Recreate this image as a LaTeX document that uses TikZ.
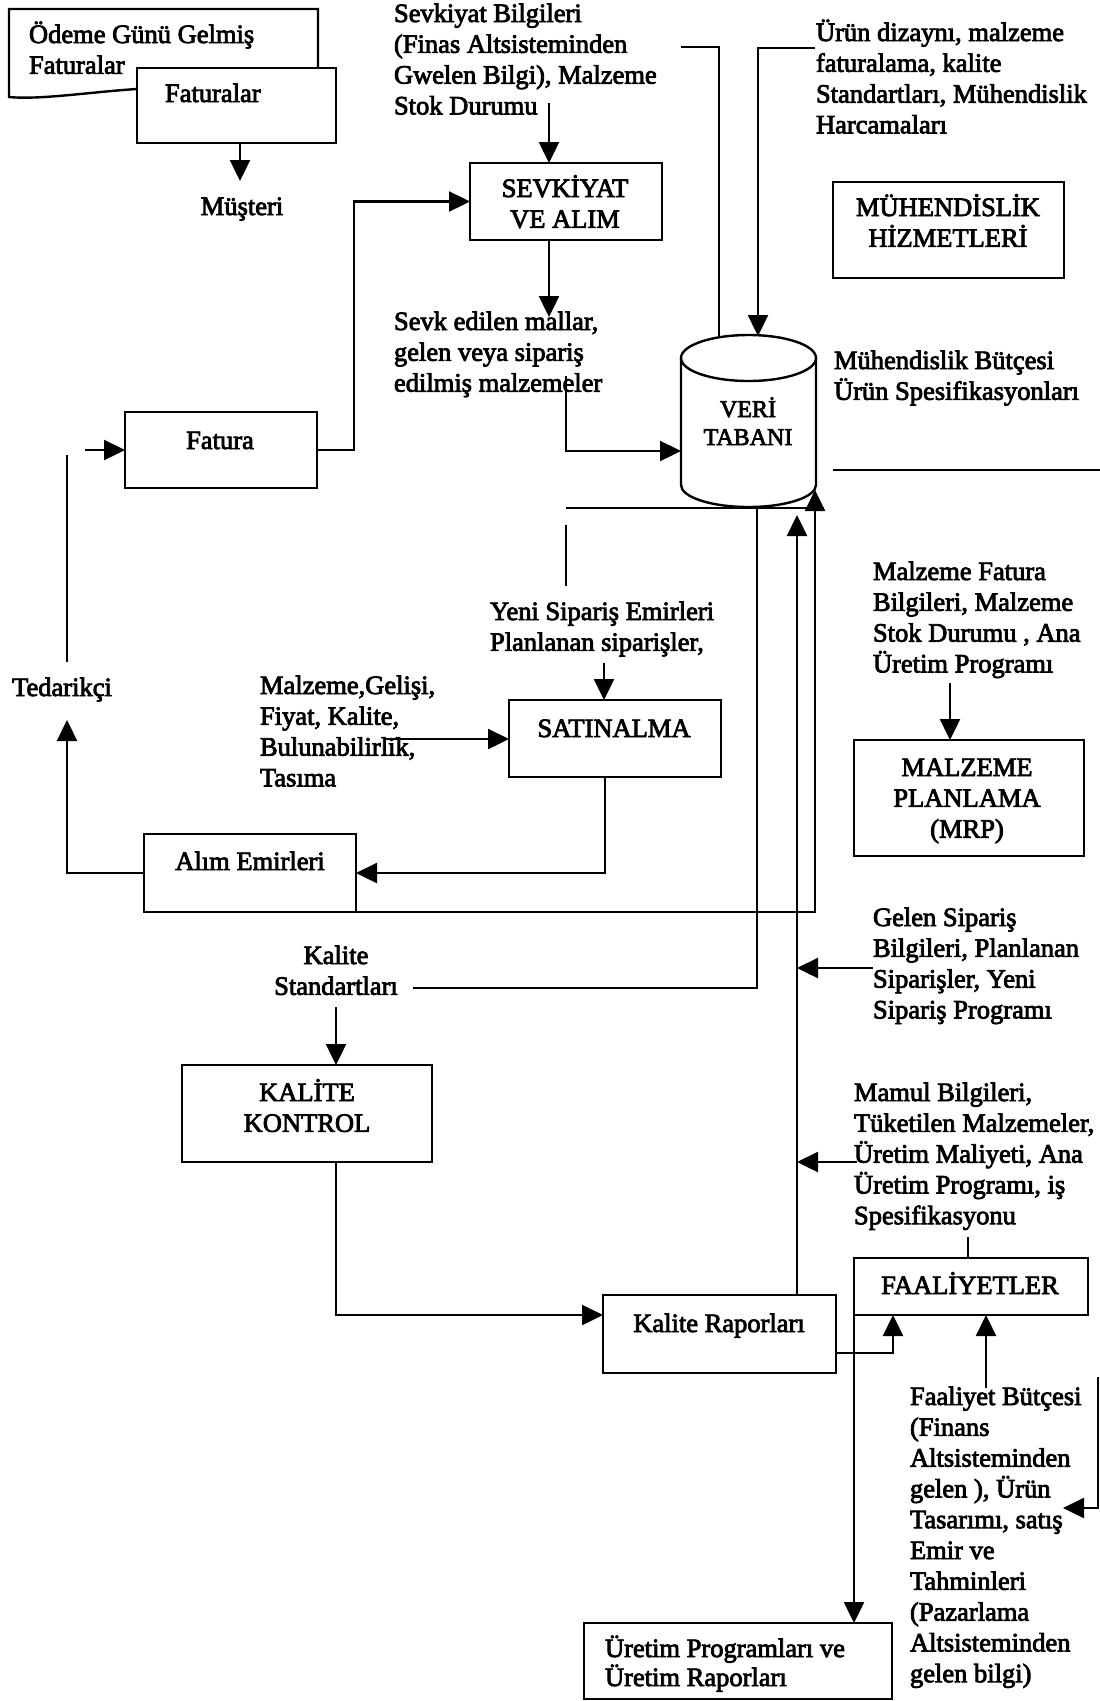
\documentclass[tikz,border=0pt]{standalone}
\usepackage{fontspec}
\setmainfont{Liberation Serif}[FakeBold=3]
\usetikzlibrary{arrows.meta,calc}
\newcommand\st{\rule{0pt}{23pt}}
\begin{document}
\begin{tikzpicture}[x=1pt,y=-1pt,
  ln/.style={line width=2.4pt, line join=miter},
  arr/.style={ln,-{Triangle[length=21pt,width=20pt]}},
  box/.style={draw, line width=2.4pt, fill=white, inner sep=0pt, outer sep=0pt},
  tx/.style={inner sep=0pt, outer sep=0pt, align=left, anchor=north west, font=\fontsize{26.5}{30.8}\selectfont},
  tc/.style={tx, align=center, anchor=north}]
\useasboundingbox[fill=white] (0,0) rectangle (1100,1701);

% document shape behind Faturalar
\draw[ln] (137,89) .. controls (90,92) and (40,100) .. (9,97) -- (9,9) -- (318,9) -- (318,68);

% boxes
\node[box, minimum width=199, minimum height=75] (fats) at (236.5,105.5) {};
\node[box, minimum width=192, minimum height=77] (sevk) at (566,201.5) {};
\node[box, minimum width=231, minimum height=96] (muh) at (948.5,230) {};
\node[box, minimum width=192, minimum height=76] (fatura) at (221,450) {};
\node[box, minimum width=212, minimum height=77] (satin) at (615,738.5) {};
\node[box, minimum width=230, minimum height=116] (mrp) at (969,798) {};
\node[box, minimum width=212, minimum height=78] (alim) at (250,873) {};
\node[box, minimum width=250, minimum height=97] (kk) at (307,1113.5) {};
\node[box, minimum width=233, minimum height=78] (kr) at (719.5,1334) {};
\node[box, minimum width=234, minimum height=57] (faal) at (971,1286.5) {};
\node[box, minimum width=308, minimum height=76] (uret) at (738,1661) {};

% database cylinder
\node[inner sep=0pt, minimum width=135, minimum height=172] (db) at (748.5,421) {};
\draw[ln, fill=white] (681,358) -- (681,485) arc[start angle=180, end angle=360, x radius=67.5pt, y radius=22pt]
  -- (816,358) arc[start angle=0, end angle=180, x radius=67.5pt, y radius=23pt] -- cycle;
\draw[ln] (681,358) arc[start angle=180, end angle=360, x radius=67.5pt, y radius=23pt];

% texts
\node[tx] (todeme) at (29,20) {\st Ödeme Günü Gelmiş\\Faturalar};
\node[tx] (tfats) at (165,79) {\st Faturalar};
\node[tc] (mus) at (242,192) {\st Müşteri};
\node[tx] (tsevkb) at (394,-1) {\st Sevkiyat Bilgileri\\(Finas Altsisteminden\\Gwelen Bilgi), Malzeme\\Stok Durumu};
\node[tc] (tsevk) at (565,174) {\st SEVKİYAT\\VE ALIM};
\node[tx] (tsevked) at (394,307) {\st Sevk edilen mallar,\\gelen veya sipariş\\edilmiş malzemeler};
\node[tx] (turun) at (816,18) {\st Ürün dizaynı, malzeme\\faturalama, kalite\\Standartları, Mühendislik\\Harcamaları};
\node[tc] (tmuh) at (948,193) {\st MÜHENDİSLİK\\HİZMETLERİ};
\node[tx] (tmuhb) at (834,346) {\st Mühendislik Bütçesi\\Ürün Spesifikasyonları};
\node[tc, font=\fontsize{24}{28}\selectfont] (tdb) at (748,394) {\st VERİ\\TABANI};
\node[tc] (tfatura) at (220,426) {\st Fatura};
\node[tc] (ted) at (62,673) {\st Tedarikçi};
\node[tx] (tmalz) at (260,671) {\st Malzeme,Gelişi,\\Fiyat, Kalite,\\Bulunabilirlik,\\Tasıma};
\node[tx] (tyeni) at (490,597) {\st Yeni Sipariş Emirleri\\Planlanan siparişler,};
\node[tc] (tsatin) at (614,714) {\st SATINALMA};
\node[tx] (tmfat) at (873,557) {\st Malzeme Fatura\\Bilgileri, Malzeme\\Stok Durumu , Ana\\Üretim Programı};
\node[tc] (tmrp) at (967,753) {\st MALZEME\\PLANLAMA\\(MRP)};
\node[tc] (talim) at (250,847) {\st Alım Emirleri};
\node[tc] (tkstd) at (336,941) {\st Kalite\\Standartları};
\node[tx] (tgelen) at (873,903) {\st Gelen Sipariş\\Bilgileri, Planlanan\\Siparişler, Yeni\\Sipariş Programı};
\node[tc] (tkk) at (307,1078) {\st KALİTE\\KONTROL};
\node[tx] (tmamul) at (854,1078) {\st Mamul Bilgileri,\\Tüketilen Malzemeler,\\Üretim Maliyeti, Ana\\Üretim Programı, iş\\Spesifikasyonu};
\node[tc] (tfaal) at (970,1271) {\st FAALİYETLER};
\node[tc] (tkr) at (719,1309) {\st Kalite Raporları};
\node[tx] (tfb) at (910,1382) {\st Faaliyet Bütçesi\\(Finans\\Altsisteminden\\gelen ), Ürün\\Tasarımı, satış\\Emir ve\\Tahminleri\\(Pazarlama\\Altsisteminden\\gelen bilgi)};
\node[tx, font=\fontsize{26.5}{29}\selectfont] (turet) at (605,1634) {\st Üretim Programları ve\\Üretim Raporları};

% named free ends
\coordinate (musT) at (240,181);
\coordinate (sb) at (549,103);
\coordinate (se) at (549,317);
\coordinate (fin) at (85,450);
\coordinate (tedA) at (67,455);
\coordinate (tedB) at (67,662);
\coordinate (tedC) at (67,720);
\coordinate (mz) at (385,739);
\coordinate (ys) at (604,663);
\coordinate (v1a) at (566,525);
\coordinate (v1b) at (566,586);
\coordinate (h1a) at (566,508);
\coordinate (h1b) at (824,508);
\coordinate (dbR) at (815,490);
\coordinate (v2) at (757,508);
\coordinate (ks) at (413,988);
\coordinate (up1) at (797,515);
\coordinate (g1) at (873,968);
\coordinate (m1) at (857,1162);
\coordinate (sm) at (566,376);
\coordinate (dbL) at (681,451);
\coordinate (tl) at (681,47);
\coordinate (dbT1) at (719,338);
\coordinate (ur) at (815,48);
\coordinate (dbT2) at (758,336);
\coordinate (rh) at (833,470);
\coordinate (rhe) at (1101,470);
\coordinate (rv) at (1098,1377);
\coordinate (fbA) at (1063,1508);
\coordinate (mf) at (950,683);
\coordinate (kstd) at (336,1007);
\coordinate (krL) at (603,1315);
\coordinate (kf) at (893,1353);
\coordinate (fbu) at (986,1388);
\coordinate (mm) at (968,1237);

% connectors
\draw[arr] (fats.south -| musT) -- (musT);
\draw[arr] (sb) -- (sb |- sevk.north);
\draw[arr] (sevk.south -| se) -- (se);
\draw[arr] (fatura.east) -- ++(37,0) |- (sevk.west);
\draw[arr] (fin) -- (fatura.west);
\draw[ln] (tedB) -- (tedA);
\draw[arr] (alim.west) -| (tedC);
\draw[arr] ([xshift=-10pt]satin.south) |- (alim.east);
\draw[arr] (mz) -- (mz -| satin.west);
\draw[arr] (ys) -- (ys |- satin.north);
\draw[ln] (v1a) -- (v1b);
\draw[ln] (h1a) -- (h1b);
\draw[arr] (alim.south east) -| (dbR);
\draw[ln] (v2) |- (ks);
\draw[arr] (kr.north -| up1) -- (up1);
\draw[arr] (g1) -- (g1 -| up1);
\draw[arr] (m1) -- (m1 -| up1);
\draw[arr] (sm) |- (dbL);
\draw[ln] (tl) -| (dbT1);
\draw[arr] (ur) -| (dbT2);
\draw[ln] (rh) -- (rhe);
\draw[arr] (rv) |- (fbA);
\draw[arr] (mf) -- (mf |- mrp.north);
\draw[arr] (kstd) -- (kstd |- kk.north);
\draw[arr] (kk.south -| kstd) |- (krL);
\draw[arr] (kr.east |- kf) -| (kf |- faal.south);
\draw[arr] (fbu) -- (fbu |- faal.south);
\draw[arr] (faal.south west) -- (faal.south west |- uret.north);
\draw[ln] (mm) -- (mm |- faal.north);
\end{tikzpicture}
\end{document}
